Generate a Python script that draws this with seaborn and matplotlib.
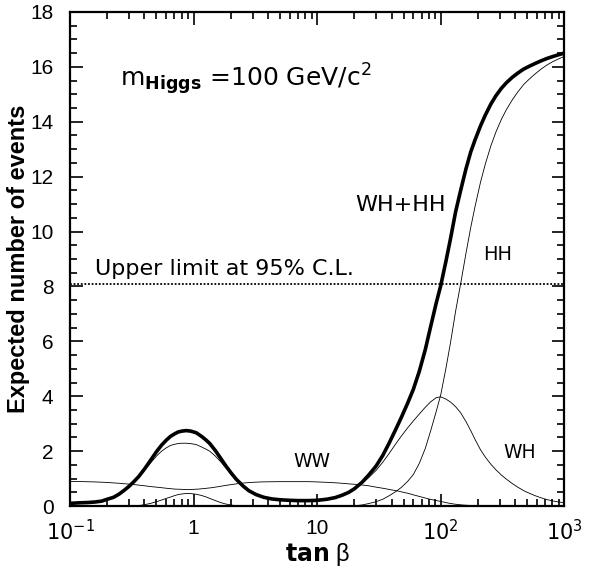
import numpy as np
import pandas as pd
import matplotlib
matplotlib.use("Agg")
import matplotlib.pyplot as plt
import matplotlib.ticker as mticker
import seaborn as sns

# tan(beta) grid shared by the WH and HH curves
tanb = [0.1, 0.12, 0.14, 0.16, 0.18, 0.2, 0.225, 0.25, 0.275, 0.3, 0.33, 0.36, 0.4,
        0.45, 0.5, 0.55, 0.6, 0.65, 0.7, 0.75, 0.8, 0.87, 0.95, 1.05, 1.15, 1.25,
        1.35, 1.5, 1.65, 1.8, 2.0, 2.2, 2.5, 2.8, 3.2, 3.7, 4.3, 5, 6, 7, 8.5, 10,
        12, 14, 16, 18, 20, 23, 26, 30, 34, 38, 43, 48, 54, 60, 67, 75, 83, 92,
        100, 110, 120, 132, 145, 160, 175, 190, 210, 230, 255, 280, 310, 340, 380,
        420, 470, 520, 580, 650, 720, 800, 900, 1000]

wh = [0.10, 0.12, 0.13, 0.15, 0.18, 0.25, 0.32, 0.44, 0.58, 0.72, 0.895, 1.06, 1.30,
      1.58, 1.82, 2.00, 2.12, 2.21, 2.25, 2.28, 2.29, 2.29, 2.275, 2.24, 2.16, 2.08,
      2.00, 1.82, 1.62, 1.42, 1.18, 0.975, 0.74, 0.56, 0.42, 0.32, 0.26, 0.23, 0.21,
      0.2, 0.2, 0.21, 0.25, 0.31, 0.4, 0.5, 0.62, 0.82, 1.03, 1.3, 1.6, 1.9, 2.25,
      2.55, 2.85, 3.1, 3.35, 3.6, 3.8, 3.95, 3.98, 3.9, 3.79, 3.62, 3.4, 3.08, 2.75,
      2.42, 2.05, 1.78, 1.52, 1.32, 1.13, 0.98, 0.82, 0.69, 0.56, 0.47, 0.38, 0.3,
      0.24, 0.19, 0.15, 0.12]

hh = [0, 0, 0, 0, 0, 0, 0, 0, 0, 0, 0.005, 0.02, 0.05,
      0.1, 0.16, 0.22, 0.28, 0.33, 0.38, 0.42, 0.44, 0.46, 0.455, 0.43, 0.39, 0.34,
      0.28, 0.2, 0.13, 0.08, 0.04, 0.015, 0, 0, 0, 0, 0, 0, 0, 0, 0, 0,
      0, 0, 0, 0, 0.01, 0.04, 0.09, 0.16, 0.25, 0.37, 0.52, 0.68, 0.9, 1.15, 1.55,
      2.1, 2.75, 3.45, 4.05, 5.0, 5.95, 7.1, 8.1, 9.2, 10.15, 10.93, 11.8, 12.47,
      13.13, 13.63, 14.09, 14.44, 14.8, 15.08, 15.36, 15.55, 15.74, 15.92, 16.06,
      16.18, 16.29, 16.38]

# WW curve has its own grid
tanb_ww = [0.1, 0.13, 0.16, 0.2, 0.25, 0.3, 0.35, 0.4, 0.45, 0.5, 0.55, 0.6, 0.7, 0.8,
           0.9, 1.0, 1.1, 1.25, 1.4, 1.6, 1.8, 2, 2.3, 2.6, 3, 3.5, 4, 5, 6, 7, 8.5,
           10, 12, 15, 18, 22, 26, 30, 35, 40, 45, 50, 55, 60, 70, 80, 90, 100, 115,
           130, 150, 175, 200]
ww = [0.9, 0.89, 0.88, 0.86, 0.83, 0.8, 0.77, 0.74, 0.71, 0.69, 0.67, 0.65, 0.62, 0.61,
      0.6, 0.61, 0.62, 0.645, 0.67, 0.71, 0.75, 0.78, 0.82, 0.845, 0.865, 0.88, 0.885,
      0.89, 0.89, 0.89, 0.89, 0.88, 0.865, 0.84, 0.81, 0.78, 0.74, 0.69, 0.64, 0.59,
      0.55, 0.5, 0.46, 0.41, 0.33, 0.26, 0.21, 0.17, 0.11, 0.07, 0.04, 0.02, 0.01]

upper_limit = 8.1

df = pd.DataFrame({"tanb": tanb, "WH": wh, "HH": hh})
df["WH+HH"] = df["WH"] + df["HH"]
df_ww = pd.DataFrame({"tanb": tanb_ww, "WW": ww})

sns.set_style("ticks", {"axes.edgecolor": "black", "xtick.color": "black",
                        "ytick.color": "black", "text.color": "black",
                        "axes.labelcolor": "black"})
plt.rcParams["font.family"] = ["Liberation Sans", "DejaVu Sans"]

fig = plt.figure(figsize=(5.89, 5.68), dpi=100)
ax = fig.add_axes([0.119, 0.109, 0.839, 0.870])

thin = dict(color="black", linewidth=0.6, estimator=None, sort=False, ax=ax)
sns.lineplot(data=df, x="tanb", y="WH", **thin)
sns.lineplot(data=df, x="tanb", y="HH", **thin)
sns.lineplot(data=df_ww, x="tanb", y="WW", **thin)
sns.lineplot(data=df, x="tanb", y="WH+HH", color="black", linewidth=2.6,
             estimator=None, sort=False, ax=ax)
ax.axhline(upper_limit, color="black", linewidth=1.3, linestyle=(0, (1, 1)))

ax.set_xscale("log")
ax.set_xlim(0.1, 1000)
ax.set_ylim(0, 18)
ax.set_xticks([0.1, 1, 10, 100, 1000])
ax.set_xticklabels([r"$10^{-1}$", "1", "10", r"$10^2$", r"$10^3$"])
ax.xaxis.set_minor_locator(mticker.LogLocator(base=10, subs=np.arange(2, 10)))
ax.xaxis.set_minor_formatter(mticker.NullFormatter())
ax.yaxis.set_major_locator(mticker.MultipleLocator(2))
ax.yaxis.set_minor_locator(mticker.MultipleLocator(0.5))
ax.tick_params(which="both", direction="in", top=True, right=True, width=1.2,
               labelsize=15, colors="black")
ax.tick_params(axis="x", which="major", pad=9)
ax.tick_params(axis="y", which="major", pad=12)
ax.tick_params(which="major", length=9)
ax.tick_params(which="minor", length=5)
for sp in ax.spines.values():
    sp.set_linewidth(1.6)
    sp.set_color("black")

ax.set_xlabel(r"$\mathbf{tan}$ β", fontsize=17, labelpad=-2)
ax.set_ylabel("Expected number of events", fontsize=17, fontweight="bold", labelpad=0)

ann = dict(family="DejaVu Sans", color="black")
ax.text(0.254, 15.3, r"$\mathrm{m}_{\mathbf{Higgs}}$ =100 GeV/c$^2$", fontsize=18, **ann)
ax.text(0.158, 8.4, "Upper limit at 95% C.L.", fontsize=16, **ann)
ax.text(20.3, 10.76, "WH+HH", fontsize=16, **ann)
ax.text(221, 8.95, "HH", fontsize=14, **ann)
ax.text(6.4, 1.42, "WW", fontsize=13.5, **ann)
ax.text(321, 1.75, "WH", fontsize=13.5, **ann)

fig.savefig("out.png", dpi=100)
